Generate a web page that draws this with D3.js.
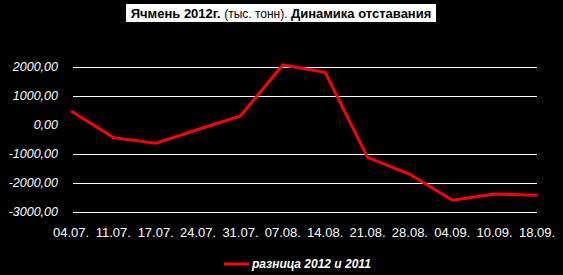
<!DOCTYPE html>
<html>
<head>
<meta charset="utf-8">
<style>
  body { margin: 0; background-color: black; }
  svg { background-color: black; font-family: 'Liberation Sans', Arial, sans-serif; }
</style>
</head>
<body>
<script src="https://d3js.org/d3.v7.min.js"></script>
<div id="my_dataviz"></div>
<script>

// data
var dates = ["04.07.", "11.07.", "17.07.", "24.07.", "31.07.", "07.08.",
             "14.08.", "21.08.", "28.08.", "04.09.", "10.09.", "18.09."];
var diff = [490, -430, -625, -150, 318, 2080, 1828, -1110, -1697, -2595, -2378, -2422];
var yTicks = [2000, 1000, 0, -1000, -2000, -3000];
var seriesName = "разница 2012 и 2011";

var width = 563, height = 275;

var svg = d3.select("#my_dataviz")
  .append("svg")
    .attr("width", width)
    .attr("height", height);

// title box
var title = svg.append("g");
title.append("rect")
  .attr("x", 126).attr("y", 4)
  .attr("width", 310).attr("height", 18)
  .attr("fill", "white");
var tt = title.append("text")
  .attr("x", 281).attr("y", 18)
  .attr("text-anchor", "middle")
  .attr("fill", "black")
  .style("font-size", "13px");
tt.append("tspan").style("font-weight", "bold").text("Ячмень 2012г. ");
tt.append("tspan").style("font-size", "12px").text("(тыс. тонн). ");
tt.append("tspan").style("font-weight", "bold").text("Динамика отставания");

// scales
var x = d3.scalePoint()
  .domain(dates)
  .range([71, 537]);

var y = d3.scaleLinear()
  .domain([-3000, 2000])
  .range([212, 67.3]);

// grid lines (no line at zero)
svg.append("g")
  .selectAll("line")
  .data(yTicks.filter(function(d) { return d !== 0; }))
  .enter()
  .append("line")
    .attr("x1", 73).attr("x2", 537)
    .attr("y1", function(d) { return Math.round(y(d)) + 0.5; })
    .attr("y2", function(d) { return Math.round(y(d)) + 0.5; })
    .attr("stroke", "white")
    .attr("stroke-width", 1);

// y labels
svg.append("g")
  .selectAll("text")
  .data(yTicks)
  .enter()
  .append("text")
    .attr("x", 58)
    .attr("y", function(d) { return y(d) + 4; })
    .attr("text-anchor", "end")
    .attr("fill", "white")
    .style("font-size", "12.5px")
    .style("font-style", "italic")
    .text(function(d) { return d3.format(".2f")(d).replace("−", "-").replace(".", ","); });

// x labels
svg.append("g")
  .selectAll("text")
  .data(dates)
  .enter()
  .append("text")
    .attr("x", function(d) { return x(d); })
    .attr("y", 237)
    .attr("text-anchor", "middle")
    .attr("fill", "white")
    .style("font-size", "13px")
    .text(function(d) { return d; });

// the line
svg.append("path")
  .datum(diff)
  .attr("fill", "none")
  .attr("stroke", "#ff0000")
  .attr("stroke-width", 3)
  .attr("d", d3.line()
    .x(function(d, i) { return x(dates[i]); })
    .y(function(d) { return y(d); }));

// legend
svg.append("line")
  .attr("x1", 224).attr("x2", 249)
  .attr("y1", 264).attr("y2", 264)
  .attr("stroke", "#ff0000")
  .attr("stroke-width", 3);
svg.append("text")
  .attr("x", 252).attr("y", 268)
  .attr("fill", "white")
  .style("font-size", "12px")
  .style("font-weight", "bold")
  .style("font-style", "italic")
  .text(seriesName);

</script>
</body>
</html>
